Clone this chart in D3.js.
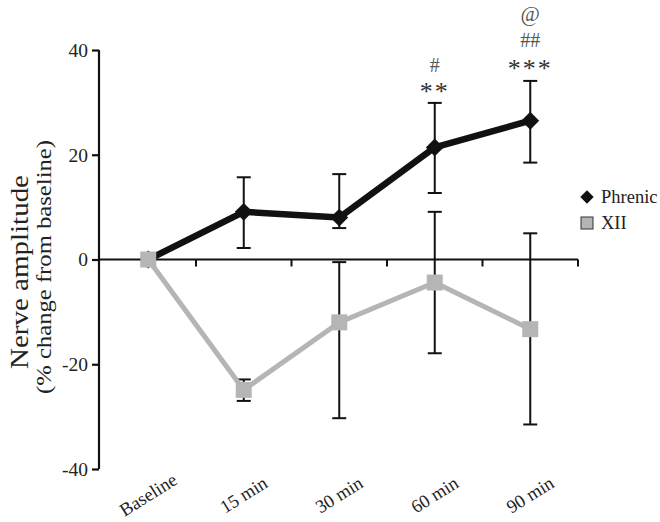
<!DOCTYPE html>
<html><head><meta charset="utf-8">
<script src="https://cdn.jsdelivr.net/npm/d3@7"></script>
<style>body{margin:0;background:#fff}svg{display:block}text{font-family:"Liberation Serif","Times New Roman",serif}</style>
</head><body><div id="chart"></div>
<script>
const categories = ["Baseline","15 min","30 min","60 min","90 min"];
const phrenic = [0, 9.1, 8.0, 21.4, 26.5];
const phrenicLow = [0, 2.2, 6.0, 12.7, 18.5];
const phrenicHigh = [0, 15.7, 16.3, 29.9, 34.1];
const xii = [0, -24.9, -12.0, -4.4, -13.3];
const xiiLow = [0, -27.0, -30.3, -17.9, -31.5];
const xiiHigh = [0, -22.9, -0.5, 9.1, 5.0];
const yTicks = [-40, -20, 0, 20, 40];
const seriesNames = ["Phrenic", "XII"];
const annotations = [
  {cat: "60 min", lines: [{t: "#", y: 65, kind: "hash"}, {t: "**", y: 91, kind: "star"}]},
  {cat: "90 min", lines: [{t: "@", y: 14, kind: "at"}, {t: "##", y: 40, kind: "hash"}, {t: "***", y: 68, kind: "star"}]}
];

const W = 660, H = 522;
const svg = d3.select("#chart").append("svg").attr("width", W).attr("height", H);
const x = d3.scaleBand().domain(categories).range([100.5, 578]).padding(0);
const y = d3.scaleLinear().domain([-40, 40]).range([469, 50]);
const cx = c => x(c) + x.bandwidth() / 2;

// Y axis
const yAxis = svg.append("g").attr("transform", "translate(99,0)")
  .call(d3.axisLeft(y).tickValues(yTicks).tickSize(7).tickPadding(4).tickFormat(d => String(d)));
yAxis.select(".domain").attr("stroke", "#111").attr("stroke-width", 2.2).attr("d", `M0,${y(40)}V${y(-40)}`);
yAxis.selectAll(".tick line").attr("stroke", "#111").attr("stroke-width", 2.2);
yAxis.selectAll(".tick text").attr("font-family", "Liberation Serif").attr("font-size", 19.5).attr("fill", "#222");

// X axis at y=0
const xAxis = svg.append("g").attr("transform", `translate(0,${y(0)})`)
  .call(d3.axisBottom(x).tickSize(0).tickFormat(""));
xAxis.select(".domain").attr("stroke", "#111").attr("stroke-width", 1.8).attr("d", `M99,0H${x.range()[1]}`);
// boundary ticks
svg.append("g").selectAll("line").data(categories)
  .join("line")
  .attr("x1", d => x(d) + x.bandwidth())
  .attr("x2", d => x(d) + x.bandwidth())
  .attr("y1", y(0)).attr("y2", y(0) + 7)
  .attr("stroke", "#111").attr("stroke-width", 2);

// x labels
svg.append("g").selectAll("text").data(categories).join("text")
  .attr("transform", d => `translate(${cx(d)},${495}) rotate(-32)`)
  .attr("text-anchor", "middle").attr("dominant-baseline", "central")
  .attr("font-size", 18.5).attr("fill", "#222").text(d => d);

// Y title
svg.append("text").attr("transform", `translate(19,272) rotate(-90)`)
  .attr("text-anchor", "middle").attr("dominant-baseline", "central")
  .attr("font-size", 26).attr("fill", "#222")
  .attr("textLength", 194).attr("lengthAdjust", "spacingAndGlyphs").text("Nerve amplitude");
svg.append("text").attr("transform", `translate(44,267) rotate(-90)`)
  .attr("text-anchor", "middle").attr("dominant-baseline", "central")
  .attr("font-size", 20).attr("fill", "#222")
  .attr("textLength", 254).attr("lengthAdjust", "spacingAndGlyphs").text("(% change from baseline)");

// error bars
function errBars(low, high) {
  const g = svg.append("g").attr("stroke", "#111").attr("stroke-width", 2);
  categories.forEach((c, i) => {
    if (low[i] === high[i]) return;
    g.append("line").attr("x1", cx(c)).attr("x2", cx(c)).attr("y1", y(low[i])).attr("y2", y(high[i]));
    [low[i], high[i]].forEach(v => g.append("line").attr("x1", cx(c) - 7).attr("x2", cx(c) + 7).attr("y1", y(v)).attr("y2", y(v)));
  });
}
errBars(phrenicLow, phrenicHigh);
errBars(xiiLow, xiiHigh);

const line = d3.line().x((d, i) => cx(categories[i])).y(d => y(d));
svg.append("path").datum(phrenic).attr("d", line).attr("fill", "none").attr("stroke", "#111").attr("stroke-width", 6.5).attr("stroke-linejoin", "round");
svg.append("path").datum(xii).attr("d", line).attr("fill", "none").attr("stroke", "#b5b5b5").attr("stroke-width", 5);

const diamond = d3.symbol().type(d3.symbolSquare).size(160);
svg.append("g").selectAll("path").data(phrenic).join("path")
  .attr("d", diamond()).attr("fill", "#111")
  .attr("transform", (d, i) => `translate(${cx(categories[i])},${y(d)}) rotate(45)`);
svg.append("g").selectAll("rect").data(xii).join("rect")
  .attr("x", (d, i) => cx(categories[i]) - 8).attr("y", d => y(d) - 8)
  .attr("width", 16).attr("height", 16).attr("fill", "#b5b5b5");

// annotations
annotations.forEach(a => {
  a.lines.forEach(l => {
    const t = svg.append("text").attr("x", cx(a.cat)).attr("y", l.y)
      .attr("text-anchor", "middle").attr("dominant-baseline", "central").text(l.t);
    if (l.kind === "star") t.attr("font-family", "DejaVu Sans").attr("font-size", 26).attr("fill", "#333").attr("letter-spacing", 2);
    else if (l.kind === "hash") t.attr("font-size", 20).attr("fill", "#555");
    else t.attr("font-size", 21).attr("fill", "#555");
  });
});

// legend
const leg = svg.append("g");
leg.append("path").attr("d", d3.symbol().type(d3.symbolSquare).size(90)()).attr("fill", "#111")
  .attr("transform", "translate(587,197) rotate(45)");
leg.append("rect").attr("x", 581).attr("y", 217).attr("width", 12).attr("height", 12)
  .attr("fill", "#b5b5b5").attr("stroke", "#333").attr("stroke-width", 1);
leg.selectAll("text").data(seriesNames).join("text")
  .attr("x", 601).attr("y", (d, i) => 197 + i * 26).attr("dominant-baseline", "central")
  .attr("font-size", 18.5).attr("fill", "#222").text(d => d);
</script></body></html>
